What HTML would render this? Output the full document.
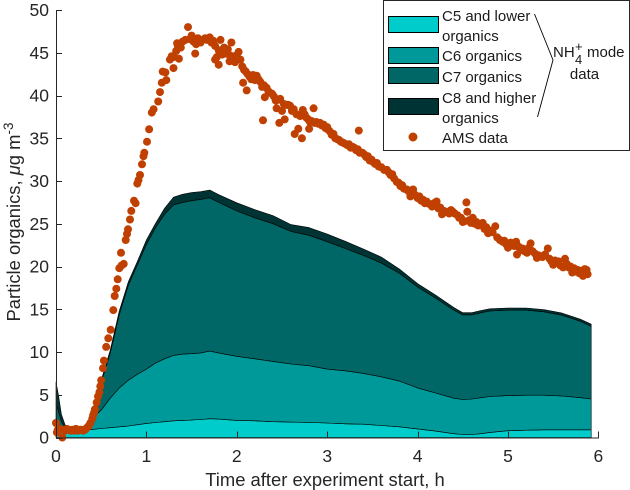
<!DOCTYPE html>
<html lang="en">
<head>
<meta charset="utf-8">
<title>Particle organics over time</title>
<style>
html,body{margin:0;padding:0;background:#fff;}
svg{display:block;font-family:"Liberation Sans",sans-serif;}
</style>
</head>
<body>
<svg id="chart" width="630" height="490" viewBox="0 0 630 490" xmlns="http://www.w3.org/2000/svg">
  <g id="areas"></g>
  <g id="dots"></g>
  <g id="axes" fill="#262626" font-size="17.5"></g>
  <text x="325" y="486" font-size="18.4" fill="#262626" text-anchor="middle">Time after experiment start, h</text>
  <text transform="translate(20,222) rotate(-90)" font-size="18.4" fill="#262626" text-anchor="middle">Particle organics, <tspan font-style="italic">μ</tspan>g m<tspan dy="-7" font-size="13.5">-3</tspan></text>
  <g>
    <rect x="383.5" y="0.5" width="246" height="150" fill="#fff" stroke="#262626" stroke-width="1"/>
    <rect x="388.5" y="16.5" width="50" height="16" fill="#00cccc" stroke="#000"/>
    <rect x="388.5" y="47.5" width="50" height="16" fill="#009999" stroke="#000"/>
    <rect x="388.5" y="67.5" width="50" height="16" fill="#006666" stroke="#000"/>
    <rect x="388.5" y="98.5" width="50" height="16" fill="#003333" stroke="#000"/>
    <circle cx="413" cy="137" r="4.5" fill="#bf4000"/>
    <g font-size="15" fill="#1a1a1a">
      <text x="442" y="21">C5 and lower</text>
      <text x="442" y="41">organics</text>
      <text x="442" y="61">C6 organics</text>
      <text x="442" y="82">C7 organics</text>
      <text x="442" y="103">C8 and higher</text>
      <text x="442" y="123">organics</text>
      <text x="442" y="143">AMS data</text>
      <text x="553" y="57">NH</text>
      <text x="575" y="51" font-size="13">+</text>
      <text x="575" y="64" font-size="13">4</text>
      <text x="587" y="57">mode</text>
      <text x="584.5" y="79" text-anchor="middle">data</text>
    </g>
    <polyline points="534.5,14 553,60 537.5,117" fill="none" stroke="#000" stroke-width="0.9"/>
  </g>
</svg>
<script>
var times = [0,0.03,0.06,0.1,0.15,0.2,0.3,0.4,0.5,0.6,0.7,0.8,0.9,1,1.1,1.2,1.3,1.4,1.5,1.6,1.7,1.8,2,2.2,2.4,2.6,2.8,3,3.2,3.4,3.6,3.8,4,4.2,4.4,4.5,4.6,4.7,4.8,5,5.2,5.4,5.6,5.8,5.92];
var c5Values = [1.5,1.0,0.8,0.8,0.8,0.8,0.85,0.95,1.05,1.15,1.25,1.35,1.5,1.65,1.75,1.85,1.95,2.0,2.05,2.1,2.2,2.15,2.0,1.95,1.85,1.8,1.75,1.7,1.6,1.55,1.4,1.25,1.0,0.75,0.45,0.35,0.35,0.45,0.6,0.8,0.85,0.9,0.9,0.9,0.9];
var c6Values = [0.7,0.4,0.2,0.1,0.1,0.1,0.15,1.35,2.15,3.45,4.55,5.35,5.9,6.35,6.95,7.35,7.65,7.75,7.75,7.8,7.9,7.75,7.5,7.25,7.05,6.8,6.65,6.3,6.2,5.95,5.7,5.35,4.8,4.45,4.15,4.1,4.15,4.2,4.2,4.1,4.1,4.05,3.95,3.75,3.6];
var c7Values = [1.8,1.6,0.9,0.3,0.1,0.1,0.1,0.1,3.2,5.3,8.6,11.1,12.8,14.6,15.8,16.9,17.6,17.75,17.9,17.95,17.95,17.6,17,16.5,16.1,15.5,15.25,14.9,14.3,13.8,13.3,12.6,11.8,11.1,10.3,9.9,9.85,9.95,10,10,9.95,9.75,9.45,8.95,8.5];
var c8Values = [2.5,1.8,0.8,0.3,0.15,0.1,0.1,0.1,0.3,0.3,0.4,0.4,0.4,0.5,0.5,0.7,0.9,0.95,0.95,0.9,0.9,0.9,0.95,0.95,0.95,0.8,0.9,0.9,0.85,0.75,0.7,0.5,0.4,0.35,0.3,0.25,0.25,0.25,0.25,0.25,0.25,0.25,0.25,0.25,0.25];
var seriesNames = ['c5','c6','c7','c8'];
var seriesColors = ['#00cccc','#009999','#006666','#003333'];
var xTicks = [0,1,2,3,4,5,6];
var yTicks = [0,5,10,15,20,25,30,35,40,45,50];
var amsTimes = [
0,0.01,0.02,0.04,0.07,0.08,0.1,0.12,0.14,0.16,
0.18,0.2,0.22,0.24,0.26,0.28,0.3,0.32,0.34,0.36,
0.38,0.4,0.41,0.42,0.43,0.45,0.465,0.48,0.49,0.5,
0.52,0.53,0.555,0.579,0.605,0.634,0.649,0.667,0.683,0.7,
0.725,0.749,0.719,0.771,0.785,0.796,0.819,0.833,0.863,0.88,
0.899,0.913,0.929,0.951,0.968,0.977,1.007,1.03,1.06,1.08,
1.13,1.15,1.17,1.18,1.22,1.21,1.26,1.28,1.3,1.33,
1.35,1.3,1.36,1.34,1.4,1.43,1.38,1.46,1.48,1.5,
1.52,1.55,1.54,1.57,1.6,1.62,1.65,1.67,1.7,1.72,
1.74,1.76,1.78,1.8,1.82,1.84,1.8,1.76,1.86,1.88,
1.9,1.92,1.94,1.92,1.96,1.98,2.0,2.02,2.04,2.06,
2.08,2.1,2.11,2.07,2.12,2.14,2.16,2.18,2.2,2.22,
2.24,2.26,2.29,2.28,2.3,2.31,2.33,2.35,2.37,2.39,
2.41,2.44,2.43,2.46,2.47,2.48,2.5,2.53,2.52,2.55,
2.57,2.59,2.61,2.64,2.63,2.66,2.68,2.7,2.72,2.73,
2.75,2.77,2.79,2.8,2.81,2.85,2.83,2.86,2.88,2.9,
2.92,2.94,2.96,2.98,3.0,3.01,3.03,3.05,3.07,3.09,
3.11,3.13,3.15,3.17,3.19,3.22,3.24,3.26,3.28,3.3,
3.32,3.35,3.34,3.36,3.39,3.41,3.43,3.45,3.47,3.49,
3.51,3.53,3.55,3.57,3.6,3.63,3.66,3.68,3.7,3.72,
3.74,3.77,3.79,3.81,3.83,3.85,3.88,3.9,3.92,3.95,
3.97,4.0,4.02,4.04,4.06,4.08,4.1,4.13,4.16,4.18,
4.21,4.23,4.25,4.27,4.29,4.32,4.35,4.37,4.39,4.41,
4.44,4.46,4.48,4.5,4.52,4.54,4.55,4.57,4.59,4.61,
4.63,4.65,4.67,4.69,4.72,4.74,4.76,4.78,4.8,4.83,
4.86,4.88,4.91,4.94,4.96,4.98,5.0,5.03,5.05,5.07,
5.09,5.1,5.12,5.14,5.16,5.18,5.21,5.23,5.25,5.27,
5.3,5.32,5.34,5.36,5.38,5.41,5.44,5.46,5.48,5.5,
5.52,5.54,5.56,5.58,5.61,5.63,5.65,5.67,5.69,5.71,
5.73,5.75,5.77,5.79,5.81,5.83,5.85,5.86,5.87,5.88
];
var amsValues = [
1.7,0.6,0.9,1.0,0.0,0.9,0.8,1.0,0.9,0.8,
0.9,0.8,1.0,0.8,0.9,0.9,0.8,0.9,1.1,1.3,
1.7,2.2,2.6,2.9,3.3,4.1,4.8,5.3,6.0,6.7,
8.1,9.0,10.6,11.6,12.6,14.9,16.55,17.4,18.5,19.8,
20.1,20.3,21.6,23.1,23.8,24.35,25.5,26.5,27.7,27.4,
29.7,30.1,30.7,31.95,32.9,33.3,34.6,36.05,38.0,38.4,
39.3,40.4,41.5,42.8,41.8,42.7,44.2,44.6,43.2,45.2,
45.7,44.5,44.3,46.1,46.3,46.5,45.6,48.0,46.6,47.0,
46.3,46.0,44.9,46.7,46.2,46.5,46.7,46.5,46.8,46.2,
46.4,45.8,44.5,45.3,46.5,44.8,43.6,44.2,45.6,44.9,
45.4,44.7,46.2,44.0,44.6,43.9,44.7,45.1,44.2,43.4,
43.0,42.8,40.6,41.5,42.5,42.2,41.9,42.4,41.8,42.3,
41.9,41.6,37.1,41.0,41.2,39.8,40.9,40.5,40.3,40.2,
39.9,38.5,39.4,39.5,36.8,39.6,38.2,37.2,39.0,38.9,
38.9,38.8,38.2,35.5,38.4,37.8,36.1,37.6,35.0,38.3,
37.8,37.4,37.2,36.1,36.9,38.5,37.0,36.8,36.9,36.7,
36.8,36.5,36.6,36.2,36.3,36.0,35.8,35.4,35.5,35.0,
34.9,34.8,34.6,34.5,34.4,34.2,34.3,33.9,34.0,33.9,
33.6,35.9,33.7,33.3,33.3,33.1,32.8,32.9,32.4,32.5,
32.2,32.0,32.1,31.7,31.6,31.3,31.3,31.0,30.7,30.8,
30.3,29.9,29.8,29.4,29.5,29.1,29.0,28.8,28.2,29.0,
28.4,28.0,28.2,27.7,27.8,27.4,27.6,27.3,27.0,27.4,
27.6,26.8,26.9,26.1,26.5,26.4,26.2,26.6,26.4,26.2,
26.0,25.7,25.7,25.2,25.3,27.5,26.4,25.4,25.1,25.7,
25.0,25.2,24.8,24.9,25.1,24.4,24.6,23.9,24.2,24.0,
24.7,23.4,23.1,22.9,23.0,22.6,22.2,22.8,22.5,22.4,
22.9,21.4,22.3,21.9,22.1,21.8,21.6,22.2,22.7,21.8,
21.5,21.0,21.3,21.2,21.1,21.4,22.1,20.9,20.6,20.2,
20.7,20.5,20.6,20.1,19.9,20.9,20.3,19.9,20.0,19.3,
19.8,19.4,19.6,19.2,19.5,18.9,19.7,19.3,19.6,19.1
];

var svgNS = 'http://www.w3.org/2000/svg';
function xScale(t){ return 56 + t * 90.4; }
function yScale(v){ return 437.5 - v * 8.55; }

var areasGroup = document.getElementById('areas');
var seriesList = [c5Values, c6Values, c7Values, c8Values];
var baseline = times.map(function(){ return 0; });
seriesList.forEach(function(values, s){
  var top = values.map(function(v, i){ return baseline[i] + v; });
  var pts = [];
  times.forEach(function(t, i){ pts.push(xScale(t).toFixed(1) + ',' + yScale(top[i]).toFixed(1)); });
  for (var i = times.length - 1; i >= 0; i--) {
    pts.push(xScale(times[i]).toFixed(1) + ',' + yScale(baseline[i]).toFixed(1));
  }
  var poly = document.createElementNS(svgNS, 'polygon');
  poly.setAttribute('points', pts.join(' '));
  poly.setAttribute('fill', seriesColors[s]);
  poly.setAttribute('stroke', '#000');
  poly.setAttribute('stroke-width', '0.6');
  poly.setAttribute('stroke-linejoin', 'round');
  
  
  areasGroup.appendChild(poly);
  baseline = top;
});

var dotsGroup = document.getElementById('dots');
amsTimes.forEach(function(t, i){
  var dot = document.createElementNS(svgNS, 'circle');
  dot.setAttribute('cx', xScale(t).toFixed(1));
  dot.setAttribute('cy', yScale(amsValues[i]).toFixed(1));
  dot.setAttribute('r', '4');
  dot.setAttribute('fill', '#bf4000');
  
  
  dotsGroup.appendChild(dot);
});

var axes = document.getElementById('axes');
function axisLine(x1, y1, x2, y2, name){
  var ln = document.createElementNS(svgNS, 'line');
  ln.setAttribute('x1', x1);
  ln.setAttribute('y1', y1);
  ln.setAttribute('x2', x2);
  ln.setAttribute('y2', y2);
  ln.setAttribute('stroke', '#262626');
  ln.setAttribute('stroke-width', '1');
  
  
  axes.appendChild(ln);
}
axisLine(56.5, yScale(50), 56.5, yScale(0) + 0.5, 'y-axis-line');
axisLine(56, yScale(0) + 0.5, xScale(6) + 0.5, yScale(0) + 0.5, 'x-axis-line');
xTicks.forEach(function(t){
  var px = Math.round(xScale(t)) + 0.5;
  axisLine(px, yScale(0), px, yScale(0) - 6, 'x-tick');
  var label = document.createElementNS(svgNS, 'text');
  label.setAttribute('x', xScale(t));
  label.setAttribute('y', 462);
  label.setAttribute('text-anchor', 'middle');
  
  
  label.textContent = t;
  axes.appendChild(label);
});
yTicks.forEach(function(v){
  var py = Math.round(yScale(v)) + 0.5;
  axisLine(56, py, 62, py, 'y-tick');
  var label = document.createElementNS(svgNS, 'text');
  label.setAttribute('x', 49);
  label.setAttribute('y', yScale(v) + 6);
  label.setAttribute('text-anchor', 'end');
  
  
  label.textContent = v;
  axes.appendChild(label);
});
</script>
</body>
</html>
